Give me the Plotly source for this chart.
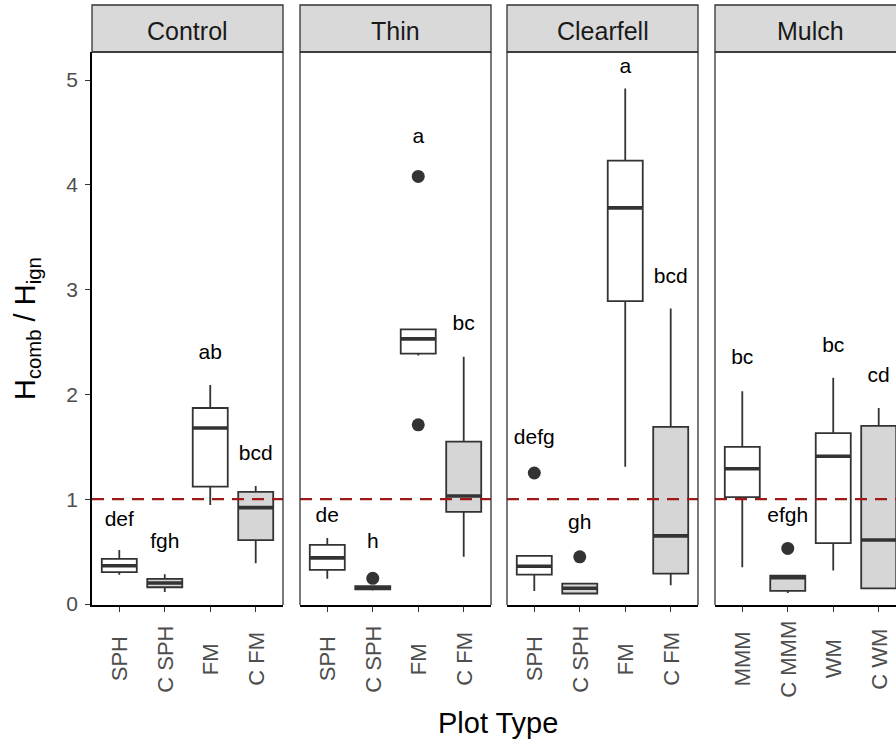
import plotly.graph_objects as go

W, H = 896, 746
FONT = "Liberation Sans, Arial, Helvetica, sans-serif"

# ---------------- data ----------------
panels = ["Control", "Thin", "Clearfell", "Mulch"]
cats_control = ["SPH", "C SPH", "FM", "C FM"]
cats_thin = ["SPH", "C SPH", "FM", "C FM"]
cats_clearfell = ["SPH", "C SPH", "FM", "C FM"]
cats_mulch = ["MMM", "C MMM", "WM", "C WM"]

lower_control = [0.28, 0.115, 0.945, 0.39]
q1_control = [0.305, 0.16, 1.12, 0.61]
med_control = [0.365, 0.20, 1.68, 0.92]
q3_control = [0.43, 0.24, 1.87, 1.07]
upper_control = [0.515, 0.285, 2.09, 1.125]

lower_thin = [0.24, 0.13, 2.37, 0.45]
q1_thin = [0.325, 0.14, 2.39, 0.88]
med_thin = [0.44, 0.155, 2.53, 1.03]
q3_thin = [0.565, 0.17, 2.62, 1.55]
upper_thin = [0.63, 0.18, 2.63, 2.36]

lower_clearfell = [0.125, 0.095, 1.31, 0.18]
q1_clearfell = [0.28, 0.10, 2.89, 0.29]
med_clearfell = [0.36, 0.15, 3.78, 0.65]
q3_clearfell = [0.46, 0.195, 4.23, 1.69]
upper_clearfell = [0.46, 0.20, 4.92, 2.82]

lower_mulch = [0.35, 0.105, 0.32, 0.15]
q1_mulch = [1.02, 0.125, 0.58, 0.15]
med_mulch = [1.29, 0.25, 1.41, 0.61]
q3_mulch = [1.50, 0.27, 1.63, 1.70]
upper_mulch = [2.03, 0.27, 2.16, 1.87]

out_cat_control, out_val_control = [], []
out_cat_thin, out_val_thin = ["C SPH", "FM", "FM"], [0.245, 4.08, 1.71]
out_cat_clearfell, out_val_clearfell = ["SPH", "C SPH"], [1.25, 0.45]
out_cat_mulch, out_val_mulch = ["C MMM"], [0.53]

letters_control, letter_y_control = ["def", "fgh", "ab", "bcd"], [0.79, 0.58, 2.39, 1.42]
letters_thin, letter_y_thin = ["de", "h", "a", "bc"], [0.83, 0.58, 4.45, 2.66]
letters_clearfell, letter_y_clearfell = ["defg", "gh", "a", "bcd"], [1.58, 0.77, 5.12, 3.11]
letters_mulch, letter_y_mulch = ["bc", "efgh", "bc", "cd"], [2.34, 0.83, 2.45, 2.17]

y_ticks = [0, 1, 2, 3, 4, 5]
ref_line = 1.0

data = {
    "Control": (cats_control, lower_control, q1_control, med_control, q3_control, upper_control,
                out_cat_control, out_val_control, letters_control, letter_y_control),
    "Thin": (cats_thin, lower_thin, q1_thin, med_thin, q3_thin, upper_thin,
             out_cat_thin, out_val_thin, letters_thin, letter_y_thin),
    "Clearfell": (cats_clearfell, lower_clearfell, q1_clearfell, med_clearfell, q3_clearfell, upper_clearfell,
                  out_cat_clearfell, out_val_clearfell, letters_clearfell, letter_y_clearfell),
    "Mulch": (cats_mulch, lower_mulch, q1_mulch, med_mulch, q3_mulch, upper_mulch,
              out_cat_mulch, out_val_mulch, letters_mulch, letter_y_mulch),
}

# ---------------- layout geometry ----------------
panel_left_px = [92, 300, 507, 715]
panel_w_px = 191
unit_px = panel_w_px / 4.2
top_px, bot_px = 52, 605
strip_top_px = 5
px_per_y = 104.8
y0_px = 604
y_range = [(y0_px - bot_px) / px_per_y, (y0_px - top_px) / px_per_y]
ydom = [1 - bot_px / H, 1 - top_px / H]
box_w = 0.77

fig = go.Figure()
layout = dict(
    width=W, height=H, margin=dict(l=0, r=0, t=0, b=0, pad=0), autosize=False,
    paper_bgcolor="white", plot_bgcolor="white", showlegend=False,
    font=dict(family=FONT),
)
shapes, annotations = [], []

for i, p in enumerate(panels):
    cats, lo, q1, md, q3, up, oc, ov, lt, ly = data[p]
    ax = "" if i == 0 else str(i + 1)
    xref, yref = "x" + ax, "y" + ax
    left = panel_left_px[i]
    right = min(left + panel_w_px, W)
    xmax = -0.6 + (right - left) / unit_px
    layout["xaxis" + ax] = dict(
        domain=[left / W, right / W], range=[-0.6, xmax], type="category",
        categoryorder="array", categoryarray=cats,
        showgrid=False, zeroline=False, showline=True, linecolor="black", linewidth=1.6,
        ticks="outside", ticklen=5, tickwidth=1.3, tickcolor="#333333",
        showticklabels=False, anchor=yref, fixedrange=True, automargin=False,
    )
    ydict = dict(domain=ydom, range=y_range, showgrid=False, zeroline=False,
                 anchor=xref, fixedrange=True, automargin=False)
    if i == 0:
        ydict.update(showline=True, linecolor="black", linewidth=1.6, ticks="outside",
                     ticklen=5, tickwidth=1.3, tickcolor="#333333", tickvals=y_ticks,
                     tickfont=dict(size=21, color="#4d4d4d", family=FONT),
                     ticklabelstandoff=3)
    else:
        ydict.update(showline=False, showticklabels=False, ticks="")
    layout["yaxis" + ax] = ydict

    for j, c in enumerate(cats):
        fill = "#d6d6d6" if c.startswith("C ") else "white"
        fig.add_trace(go.Box(
            x=[c], q1=[q1[j]], median=[md[j]], q3=[q3[j]],
            lowerfence=[lo[j]], upperfence=[up[j]],
            width=box_w, whiskerwidth=0, boxpoints=False,
            fillcolor=fill, line=dict(color="#333333", width=1.8),
            xaxis=xref, yaxis=yref, hoverinfo="skip",
        ))
        shapes.append(dict(type="line", xref=xref, yref=yref,
                           x0=j - box_w / 2, x1=j + box_w / 2, y0=md[j], y1=md[j],
                           line=dict(color="#333333", width=3.6), layer="above"))
    if oc:
        fig.add_trace(go.Scatter(x=oc, y=ov, mode="markers",
                                 marker=dict(size=13, color="#333333"),
                                 xaxis=xref, yaxis=yref, hoverinfo="skip"))
    fig.add_trace(go.Scatter(x=cats, y=ly, mode="text", text=lt,
                             textposition="middle center",
                             textfont=dict(size=21, color="black", family=FONT),
                             xaxis=xref, yaxis=yref, hoverinfo="skip", cliponaxis=False))
    shapes.append(dict(type="line", xref=xref + " domain", yref=yref, x0=0, x1=1,
                       y0=ref_line, y1=ref_line,
                       line=dict(color="#a01818", width=2.2, dash="12px,8px"), layer="above"))
    xl, xr = left / W, (left + panel_w_px) / W
    yb, yt = ydom
    shapes.append(dict(type="line", xref="paper", yref="paper", x0=xl, x1=xr, y0=yt, y1=yt,
                       line=dict(color="#333333", width=1.3)))
    if i > 0:
        shapes.append(dict(type="line", xref="paper", yref="paper", x0=xl, x1=xl, y0=yb, y1=yt,
                           line=dict(color="#333333", width=1.3)))
    if left + panel_w_px <= W:
        shapes.append(dict(type="line", xref="paper", yref="paper", x0=xr, x1=xr, y0=yb, y1=yt,
                           line=dict(color="#333333", width=1.3)))
    shapes.append(dict(type="rect", xref="paper", yref="paper", x0=xl, x1=xr,
                       y0=1 - top_px / H, y1=1 - strip_top_px / H,
                       fillcolor="#d9d9d9", line=dict(color="#333333", width=1.3), layer="below"))
    annotations.append(dict(text=p, xref="paper", yref="paper", x=(xl + xr) / 2,
                            y=1 - 31 / H, showarrow=False,
                            font=dict(size=25, color="#1a1a1a", family=FONT),
                            xanchor="center", yanchor="middle"))
    for c in cats:
        annotations.append(dict(text=c, xref=xref, yref="paper", x=c, y=1 - 659 / H,
                                textangle=-90, showarrow=False, xanchor="center", yanchor="middle",
                                font=dict(size=22, color="#4d4d4d", family=FONT)))

annotations.append(dict(text="H<sub>comb</sub> / H<sub>ign</sub>", xref="paper", yref="paper",
                        x=27 / W, y=1 - 329 / H, textangle=-90, showarrow=False,
                        xanchor="center", yanchor="middle",
                        font=dict(size=29, color="black", family=FONT)))
annotations.append(dict(text="Plot Type", xref="paper", yref="paper",
                        x=498 / W, y=1 - 723 / H, showarrow=False,
                        xanchor="center", yanchor="middle",
                        font=dict(size=29, color="black", family=FONT)))

layout["shapes"] = shapes
layout["annotations"] = annotations
fig.update_layout(**layout)
fig.write_html("out.html")
